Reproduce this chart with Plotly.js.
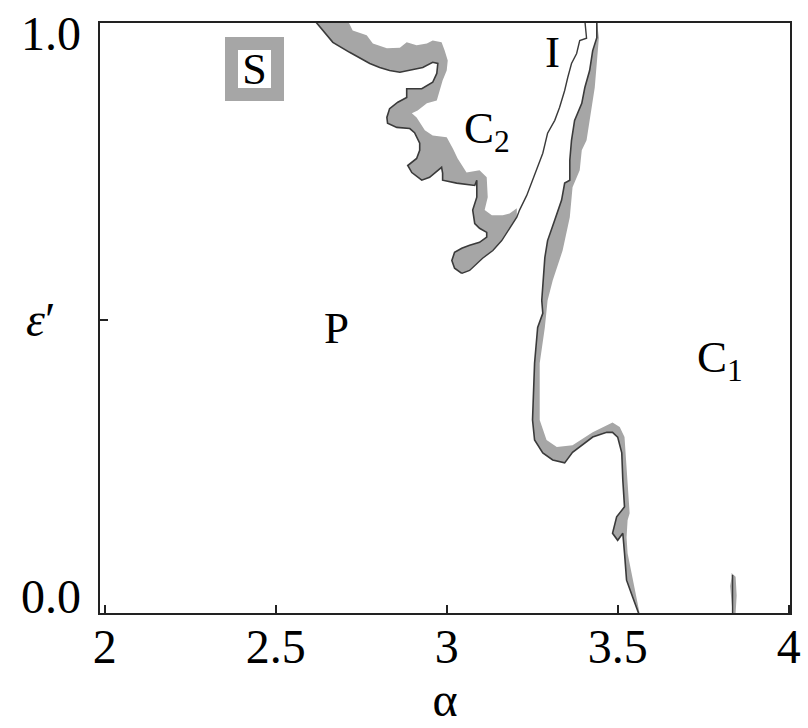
<!DOCTYPE html>
<html>
<head>
<meta charset="utf-8">
<script src="https://cdn.plot.ly/plotly-3.0.1.min.js"></script>
<style>
  html, body { margin: 0; padding: 0; background: #fff; }
  #chart { width: 808px; height: 728px; }
</style>
</head>
<body>
<div id="chart"></div>
<script>
// Phase diagram in the (alpha, epsilon') plane.

// Axis ticks
const alphaTickVals = [2, 2.5, 3, 3.5, 4];
const alphaTickText = ['2', '2.5', '3', '3.5', '4'];
const epsTickVals = [0.5];

// C2 boundary: lower-left edge, from the top of the frame down to the tip
const c2EdgeAlpha = [2.614, 2.667, 2.716, 2.775, 2.804, 2.833, 2.863, 2.892, 2.930, 2.959,
  2.974, 2.971, 2.959, 2.927, 2.883, 2.883, 2.857, 2.833, 2.825, 2.827,
  2.854, 2.892, 2.906, 2.921, 2.921, 2.912, 2.886, 2.898, 2.927, 2.950,
  2.965, 2.985, 2.988, 2.988, 3.029, 3.082, 3.088, 3.088, 3.076, 3.082,
  3.096, 3.117, 3.117, 3.096, 3.067, 3.044, 3.023, 3.015, 3.023, 3.044];
const c2EdgeEps = [1.01, 0.973, 0.956, 0.937, 0.930, 0.925, 0.922, 0.925, 0.930, 0.939,
  0.937, 0.920, 0.905, 0.894, 0.894, 0.879, 0.871, 0.860, 0.845, 0.835,
  0.828, 0.826, 0.819, 0.801, 0.789, 0.775, 0.763, 0.751, 0.738, 0.743,
  0.751, 0.760, 0.750, 0.738, 0.733, 0.729, 0.738, 0.709, 0.687, 0.664,
  0.656, 0.649, 0.641, 0.632, 0.627, 0.622, 0.615, 0.601, 0.588, 0.579];

// C2 / I boundary: from the tip up to the top of the frame
const c2iAlpha = [3.044, 3.067, 3.105, 3.135, 3.161, 3.184, 3.205, 3.213, 3.234, 3.251,
  3.281, 3.295, 3.316, 3.330, 3.345, 3.354, 3.365, 3.380, 3.389, 3.409, 3.404];
const c2iEps = [0.579, 0.584, 0.605, 0.618, 0.635, 0.656, 0.675, 0.687, 0.712, 0.738,
  0.784, 0.818, 0.840, 0.862, 0.891, 0.913, 0.937, 0.954, 0.976, 0.980, 1.01];

// Outer edge of the shaded coexistence strip around C2 (tip back up to the top)
const c2ShadeAlpha = [3.205, 3.184, 3.164, 3.132, 3.111, 3.120, 3.117, 3.096, 3.058, 3.032,
  3.018, 3.000, 2.959, 2.936, 2.912, 2.898, 2.915, 2.942, 2.971, 2.980,
  2.988, 3.000, 3.003, 2.994, 2.985, 2.959, 2.942, 2.912, 2.883, 2.863,
  2.825, 2.784, 2.766, 2.725, 2.711];
const c2ShadeEps = [0.690, 0.681, 0.678, 0.678, 0.687, 0.709, 0.743, 0.755, 0.751, 0.775,
  0.792, 0.811, 0.814, 0.823, 0.845, 0.852, 0.857, 0.869, 0.874, 0.891,
  0.908, 0.925, 0.942, 0.959, 0.973, 0.976, 0.971, 0.968, 0.973, 0.964,
  0.963, 0.971, 0.985, 0.993, 1.01];

// I / C1 boundary, top to bottom
const ic1Alpha = [3.439, 3.439, 3.427, 3.418, 3.404, 3.395, 3.374, 3.365, 3.360, 3.360,
  3.345, 3.336, 3.316, 3.295, 3.287, 3.281, 3.278, 3.281, 3.266, 3.257,
  3.251, 3.257, 3.281, 3.310, 3.345, 3.368, 3.389, 3.427, 3.468, 3.485,
  3.500, 3.512, 3.515, 3.520, 3.497, 3.485, 3.500, 3.515, 3.520, 3.526,
  3.544, 3.561];
const ic1Eps = [1.01, 0.981, 0.959, 0.925, 0.896, 0.869, 0.840, 0.806, 0.772, 0.738,
  0.733, 0.704, 0.670, 0.635, 0.606, 0.562, 0.533, 0.511, 0.487, 0.426,
  0.329, 0.295, 0.273, 0.261, 0.256, 0.274, 0.283, 0.300, 0.308, 0.308,
  0.300, 0.273, 0.227, 0.181, 0.164, 0.136, 0.124, 0.136, 0.102, 0.056,
  0.027, 0];

// Outer edge of the shaded strip along I / C1, bottom to top
const ic1ShadeAlpha = [3.564, 3.544, 3.529, 3.526, 3.529, 3.535, 3.529, 3.520, 3.506, 3.485,
  3.427, 3.368, 3.322, 3.292, 3.272, 3.272, 3.287, 3.295, 3.310, 3.339,
  3.360, 3.368, 3.389, 3.395, 3.409, 3.418, 3.433, 3.442, 3.445];
const ic1ShadeEps = [0, 0.056, 0.102, 0.129, 0.158, 0.170, 0.227, 0.300, 0.317, 0.325,
  0.308, 0.286, 0.283, 0.295, 0.329, 0.426, 0.487, 0.533, 0.567, 0.618,
  0.675, 0.726, 0.755, 0.789, 0.806, 0.840, 0.896, 0.959, 0.981];

// Narrow sliver near alpha = 3.84
const sliverAlpha = [3.836, 3.836];
const sliverEps = [0.065, 0];
const sliverShadeAlpha = [3.833, 3.845, 3.848, 3.845, 3.836, 3.830, 3.829, 3.833];
const sliverShadeEps = [0.068, 0.062, 0.030, 0, 0, 0.034, 0.046, 0.060];

// Region labels
const regionText = ['P', 'C<sub>1</sub>', 'C<sub>2</sub>', 'I'];
const regionAlpha = [2.678, 3.800, 3.118, 3.310];
const regionEps = [0.486, 0.432, 0.822, 0.957];

const SHADE = '#a6a6a6';
const EDGE = '#3a3a3a';
const SERIF = '"Liberation Serif", "Times New Roman", serif';

function shade(x, y) {
  return { x, y, type: 'scatter', mode: 'lines', fill: 'toself', fillcolor: SHADE,
    line: { width: 0, color: SHADE }, hoverinfo: 'skip', showlegend: false };
}
function edge(x, y, w) {
  return { x, y, type: 'scatter', mode: 'lines',
    line: { width: w || 1.6, color: EDGE }, hoverinfo: 'skip', showlegend: false };
}

const c2TipUpper = 7; // points of the C2/I line that close the C2 strip at its tip
const traces = [
  shade(c2EdgeAlpha.concat(c2iAlpha.slice(1, c2TipUpper), c2ShadeAlpha),
        c2EdgeEps.concat(c2iEps.slice(1, c2TipUpper), c2ShadeEps)),
  shade(ic1Alpha.concat(ic1ShadeAlpha), ic1Eps.concat(ic1ShadeEps)),
  shade(sliverShadeAlpha, sliverShadeEps),
  edge(c2EdgeAlpha, c2EdgeEps),
  edge(c2iAlpha, c2iEps, 1.4),
  edge(ic1Alpha, ic1Eps),
  edge(sliverAlpha, sliverEps, 1.4)
];

const annotations = regionText.map((t, i) => ({
  x: regionAlpha[i], y: regionEps[i], xref: 'x', yref: 'y', text: t, showarrow: false,
  font: { family: SERIF, size: 45, color: '#000' }
}));

// "S" tag in its shaded box
annotations.push({
  x: 2.439, y: 0.927, xref: 'x', yref: 'y', text: 'S', showarrow: false,
  font: { family: SERIF, size: 44, color: '#000' },
  width: 33, height: 38, bgcolor: '#fff', bordercolor: SHADE, borderwidth: 13, borderpad: 0
});

// Vertical-axis labels
annotations.push(
  { x: -0.024, y: 0.988, xref: 'paper', yref: 'y', xanchor: 'right', text: '1.0',
    showarrow: false, font: { family: SERIF, size: 48, color: '#000' } },
  { x: -0.024, y: 0.028, xref: 'paper', yref: 'y', xanchor: 'right', text: '0.0',
    showarrow: false, font: { family: SERIF, size: 48, color: '#000' } },
  { x: -0.11, y: 0.5, xref: 'paper', yref: 'y', text: '<i>ε</i>′',
    showarrow: false, font: { family: SERIF, size: 48, color: '#000' } }
);

const layout = {
  width: 808, height: 728,
  margin: { l: 100, r: 18, t: 23, b: 115 },
  paper_bgcolor: '#fff', plot_bgcolor: '#fff',
  showlegend: false,
  xaxis: {
    range: [1.986, 4.004], tickvals: alphaTickVals, ticktext: alphaTickText,
    ticks: 'inside', ticklen: 8, tickwidth: 2, tickcolor: '#222',
    ticklabelstandoff: -10,
    showline: true, mirror: true, linecolor: '#222', linewidth: 2,
    showgrid: false, zeroline: false,
    tickfont: { family: SERIF, size: 48, color: '#000' },
    title: { text: 'α', font: { family: SERIF, size: 48, color: '#000' }, standoff: 0 }
  },
  yaxis: {
    range: [0, 1.006], tickvals: epsTickVals, showticklabels: false,
    ticks: 'inside', ticklen: 8, tickwidth: 2, tickcolor: '#222',
    showline: true, mirror: true, linecolor: '#222', linewidth: 2,
    showgrid: false, zeroline: false
  },
  annotations
};

Plotly.newPlot('chart', traces, layout, { staticPlot: true, displayModeBar: false });
</script>
</body>
</html>
